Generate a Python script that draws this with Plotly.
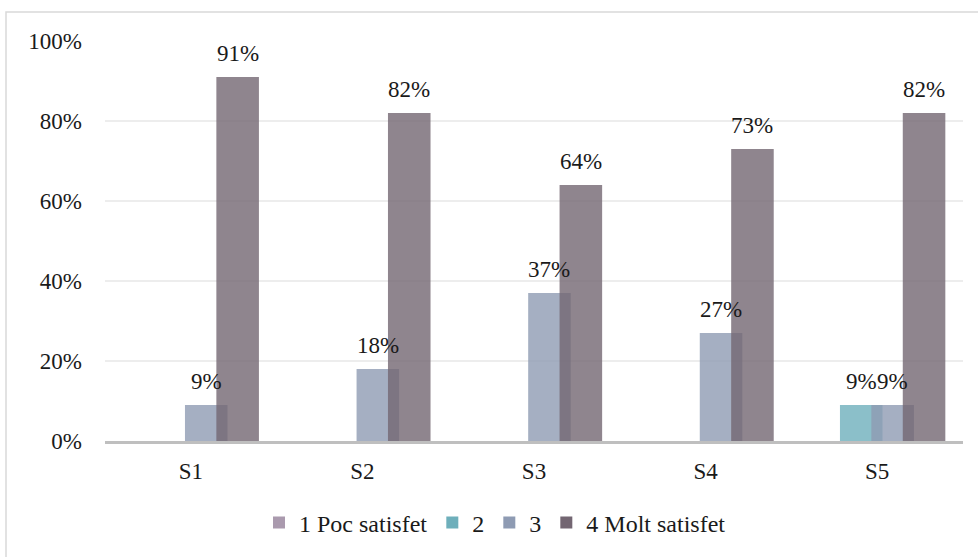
import plotly.graph_objects as go

# Satisfaction survey: share of responses per level, for each session
categories = ["S1", "S2", "S3", "S4", "S5"]
series_names = ["1 Poc satisfet", "2", "3", "4 Molt satisfet"]
poc_satisfet = [None, None, None, None, None]
nivell_2 = [None, None, None, None, 9]
nivell_3 = [9, 18, 37, 27, 9]
molt_satisfet = [91, 82, 64, 73, 82]
y_ticks = [0, 20, 40, 60, 80, 100]

series_values = [poc_satisfet, nivell_2, nivell_3, molt_satisfet]
colors = ["#AA9AAE", "#6EAFBB", "#8E9BB3", "#736672"]

FONT = "'Liberation Serif', 'DejaVu Serif', serif"
TEXT = "#1a1a1a"

# plot-area geometry in pixels (used for paper-relative placements)
L, R, T, B = 105, 963, 41, 441
W, H = 978, 557

def px_x(p):
    return (p - L) / (R - L)

def px_y(q):
    return (B - q) / (B - T)

bar_w = 0.248
step = 0.183
start = -0.4

fig = go.Figure()
annotations = []
for k, (name, vals, col) in enumerate(zip(series_names, series_values, colors)):
    off = start + step * k
    fig.add_trace(go.Bar(
        x=list(range(len(categories))),
        y=[v if v is not None else 0 for v in vals],
        name=name,
        offset=off,
        width=bar_w,
        marker=dict(color=col, opacity=0.8, line=dict(width=0)),
        hoverinfo="skip",
    ))
    for i, v in enumerate(vals):
        if v is None:
            continue
        annotations.append(dict(
            x=i + off + bar_w / 2, y=v, xref="x", yref="y",
            text=f"{v}%", showarrow=False,
            xanchor="center", yanchor="bottom", yshift=9,
            font=dict(family=FONT, size=23, color=TEXT),
        ))

fig.update_layout(
    width=W, height=H,
    barmode="overlay",
    paper_bgcolor="white",
    plot_bgcolor="white",
    margin=dict(l=L, r=W - R, t=T, b=H - B, autoexpand=False),
    font=dict(family=FONT, size=23, color=TEXT),
    showlegend=True,
    legend=dict(
        orientation="h",
        x=px_x(495), xanchor="center",
        y=px_y(523), yanchor="middle",
        font=dict(family=FONT, size=24, color=TEXT),
        itemwidth=30,
        traceorder="normal",
        bgcolor="rgba(0,0,0,0)",
    ),
    annotations=annotations,
    shapes=[dict(
        type="rect", xref="paper", yref="paper",
        x0=px_x(6), x1=px_x(990), y0=px_y(570), y1=px_y(12),
        line=dict(color="#D9D9D9", width=1.5),
        fillcolor="rgba(0,0,0,0)", layer="below",
    )],
    xaxis=dict(
        range=[-0.5, len(categories) - 0.5],
        tickmode="array",
        tickvals=list(range(len(categories))),
        ticktext=categories,
        showgrid=False,
        showline=True, linecolor="#BFBFBF", linewidth=2.5,
        ticks="", ticklabelstandoff=8,
        tickfont=dict(family=FONT, size=23, color=TEXT),
        zeroline=False,
    ),
    yaxis=dict(
        range=[0, 100],
        tickmode="array",
        tickvals=y_ticks,
        ticktext=[f"{t}%" for t in y_ticks],
        showgrid=True, gridcolor="#EDEDED", gridwidth=1.5,
        showline=False, zeroline=False,
        ticks="", ticklabelstandoff=22,
        tickfont=dict(family=FONT, size=23, color=TEXT),
    ),
)

fig.write_html("out.html")
